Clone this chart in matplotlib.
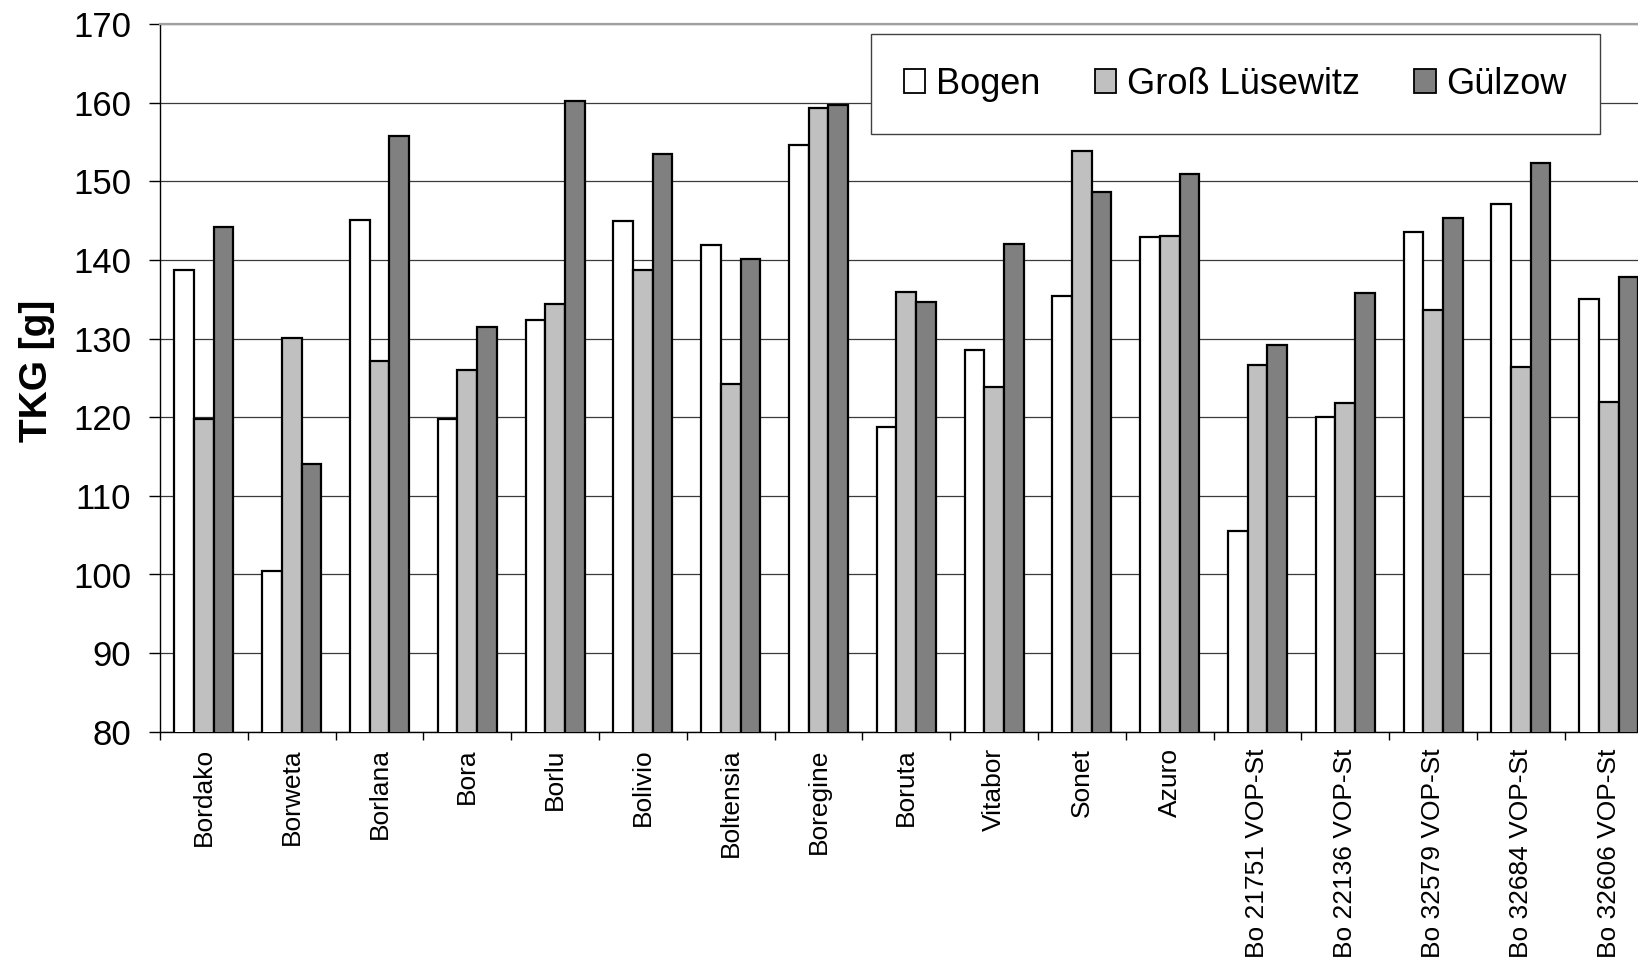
import numpy as np
import matplotlib
matplotlib.use("Agg")
import matplotlib.pyplot as plt
from matplotlib.ticker import MultipleLocator, FixedLocator

plt.rcParams['font.family'] = ['Liberation Sans', 'DejaVu Sans']

# Sorten / Zuchtstaemme
sorten = ['Bordako', 'Borweta', 'Borlana', 'Bora', 'Borlu', 'Bolivio', 'Boltensia',
          'Boregine', 'Boruta', 'Vitabor', 'Sonet', 'Azuro',
          'Bo 21751 VOP-St', 'Bo 22136 VOP-St', 'Bo 32579 VOP-St',
          'Bo 32684 VOP-St', 'Bo 32606 VOP-St']

# TKG [g] je Standort
bogen = [138.7, 100.5, 145.1, 119.8, 132.4, 145.0, 141.9, 154.6, 118.8, 128.6,
         135.4, 143.0, 105.5, 120.0, 143.6, 147.1, 135.1]
gross_luesewitz = [119.8, 130.1, 127.1, 126.0, 134.4, 138.8, 124.2, 159.3, 136.0, 123.9,
                   153.9, 143.1, 126.7, 121.8, 133.7, 126.4, 121.9]
guelzow = [144.2, 114.0, 155.8, 131.5, 160.3, 153.5, 140.2, 159.7, 134.7, 142.1,
           148.7, 151.0, 129.2, 135.8, 145.3, 152.3, 137.8]

standorte = ['Bogen', 'Groß Lüsewitz', 'Gülzow']
farben = ['white', '#c0c0c0', '#808080']

fig = plt.figure(figsize=(16.38, 9.6), dpi=100)
ax = fig.add_axes([160 / 1638, (960 - 731.7) / 960, 1492.6 / 1638, (731.7 - 24.3) / 960])

x = np.arange(len(sorten))
w = 0.224
for i, (werte, name, farbe) in enumerate(zip([bogen, gross_luesewitz, guelzow], standorte, farben)):
    ax.bar(x + (i - 1) * w, werte, width=w, color=farbe, edgecolor='black',
           linewidth=1.6, label=name, zorder=3)

ax.set_xlim(-0.5, len(sorten) - 0.5)
ax.set_ylim(80, 170)
ax.yaxis.set_major_locator(MultipleLocator(10))
ax.grid(axis='y', color='#3a3a3a', linewidth=0.9)
ax.set_axisbelow(True)

ax.set_xticks(x)
ax.set_xticklabels(sorten, rotation=90, fontsize=19)
ax.xaxis.set_minor_locator(FixedLocator(np.arange(-0.5, len(sorten), 1.0)))
ax.tick_params(axis='x', which='major', length=0, pad=12)
ax.tick_params(axis='x', which='minor', length=6, width=1, color='black')
ax.tick_params(axis='y', labelsize=25, length=7.7, width=1, pad=13)

ax.spines['right'].set_visible(False)
ax.spines['top'].set_color('#a0a0a0')
ax.spines['top'].set_linewidth(1.6)
ax.spines['left'].set_linewidth(1.0)
ax.spines['bottom'].set_linewidth(1.0)

fig.text(37 / 1638, 1 - 371 / 960, 'TKG [g]', rotation=90, ha='center', va='center',
         fontsize=28, fontweight='bold')

leg = ax.legend(loc='upper left', bbox_to_anchor=(871 / 1638, 1 - 34.3 / 960),
                bbox_transform=fig.transFigure, ncol=3, fontsize=26, frameon=True,
                fancybox=False, framealpha=1, edgecolor='#404040', borderaxespad=0,
                handlelength=0.6, handleheight=0.65, handletextpad=0.3,
                columnspacing=1.5, borderpad=0.9)
leg.get_frame().set_linewidth(1.0)
for h in leg.legend_handles:
    h.set_linewidth(1.3)

fig.savefig('out.png', dpi=100)
